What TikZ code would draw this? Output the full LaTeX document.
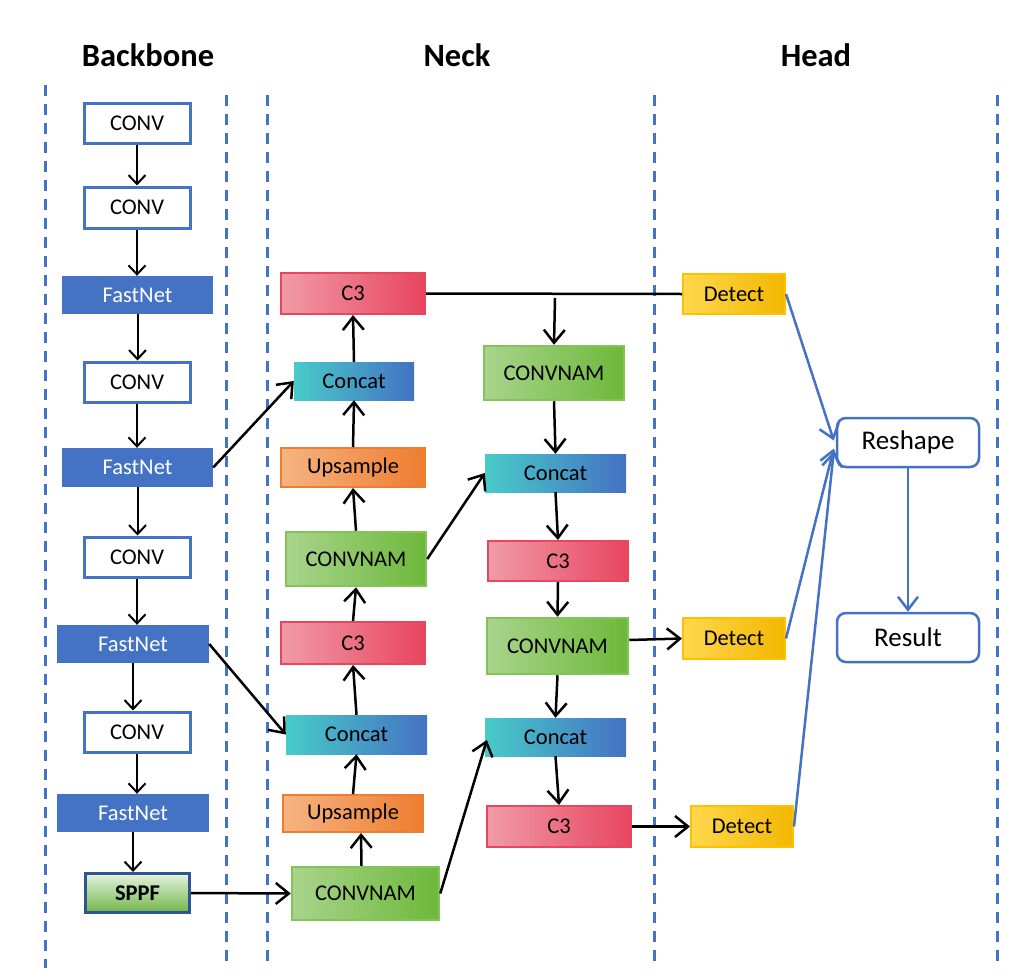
\documentclass[tikz,border=0pt]{standalone}
\usepackage{fontspec}
\setmainfont{Carlito}
\usetikzlibrary{arrows.meta,calc}
\definecolor{mblue}{HTML}{4472C4}
\definecolor{dblue}{HTML}{2F5597}
\definecolor{pinkL}{HTML}{F19BA6}
\definecolor{pinkR}{HTML}{E84560}
\definecolor{tealL}{HTML}{48CBC8}
\definecolor{tealR}{HTML}{4472C4}
\definecolor{orL}{HTML}{F5B482}
\definecolor{orR}{HTML}{EE7D30}
\definecolor{grL}{HTML}{A9D48C}
\definecolor{grR}{HTML}{6DB83A}
\definecolor{yeL}{HTML}{FFD84F}
\definecolor{yeR}{HTML}{F2B700}
\definecolor{yeB}{HTML}{FFC000}
\definecolor{spT}{HTML}{E4F3DD}
\definecolor{spB}{HTML}{72B54B}
\tikzset{
  box/.style={inner sep=0pt, font=\fontsize{22.5}{24}\selectfont},
  convbox/.style={box, draw=mblue, line width=3pt, fill=white},
  fastbox/.style={box, fill=mblue, text=white},
  c3box/.style={box, draw=pinkR, line width=2pt, left color=pinkL, right color=pinkR},
  catbox/.style={box, left color=tealL, right color=tealR},
  upbox/.style={box, draw=orR, line width=2pt, left color=orL, right color=orR},
  cnbox/.style={box, draw=grR!85!white, line width=2.5pt, left color=grL, right color=grR},
  detbox/.style={box, draw=yeB, line width=2pt, left color=yeL, right color=yeR},
  sppfbox/.style={box, draw=dblue, line width=3pt, top color=spT, bottom color=spB, font=\fontsize{22.5}{24}\selectfont\bfseries},
  roundbox/.style={inner sep=0pt, draw=mblue, line width=2.5pt, rounded corners=9pt, fill=white, font=\fontsize{27}{29}\selectfont},
  title/.style={font=\fontsize{32.5}{34}\selectfont\bfseries},
  bbarr/.style={line width=2pt, -{Straight Barb[length=9pt,width=17pt]}},
  nkarr/.style={line width=2.5pt, -{Straight Barb[length=13pt,width=21pt]}},
  nkline/.style={line width=2.5pt},
  bluearr/.style={draw=mblue, line width=2.5pt, -{Straight Barb[length=13pt,width=20pt]}},
  sep/.style={draw=mblue, line width=3pt, dash pattern=on 11pt off 8pt},
}
\begin{document}
\begin{tikzpicture}[x=1pt,y=-1pt]
\useasboundingbox (0,0) rectangle (1011,974);
% separators
\coordinate (s1a) at (45,85);  \coordinate (s1b) at (45,968);
\coordinate (s2a) at (226,95); \coordinate (s2b) at (226,968);
\coordinate (s3a) at (267,95); \coordinate (s3b) at (267,968);
\coordinate (s4a) at (654,95); \coordinate (s4b) at (654,968);
\coordinate (s5a) at (997,95); \coordinate (s5b) at (997,968);
\draw[sep] (s1a) -- (s1b);
\draw[sep] (s2a) -- (s2b);
\draw[sep] (s3a) -- (s3b);
\draw[sep] (s4a) -- (s4b);
\draw[sep] (s5a) -- (s5b);
% titles
\node[title] (tb) at (148,55) {Backbone};
\node[title] (tn) at (457,55) {Neck};
\node[title] (th) at (816,55) {Head};
% backbone
\node[convbox, minimum width=106pt, minimum height=40pt] (c1) at (137,123) {CONV};
\node[convbox, minimum width=106pt, minimum height=41pt] (c2) at (137,207.5) {CONV};
\node[fastbox, minimum width=151pt, minimum height=38pt] (f1) at (137.5,295) {FastNet};
\node[convbox, minimum width=106pt, minimum height=40pt] (c3) at (137,382) {CONV};
\node[fastbox, minimum width=151pt, minimum height=39pt] (f2) at (137.5,467.5) {FastNet};
\node[convbox, minimum width=106pt, minimum height=40pt] (c4) at (137,557) {CONV};
\node[fastbox, minimum width=152pt, minimum height=38pt] (f3) at (133,644) {FastNet};
\node[convbox, minimum width=106pt, minimum height=40pt] (c5) at (137,732) {CONV};
\node[fastbox, minimum width=152pt, minimum height=38pt] (f4) at (133,813) {FastNet};
\node[sppfbox, minimum width=104pt, minimum height=39pt] (sp) at (137.5,893) {SPPF};
% neck left
\node[c3box, minimum width=144pt, minimum height=41pt] (n1) at (353,293.5) {C3};
\node[catbox, minimum width=120pt, minimum height=38pt] (n2) at (354,381) {Concat};
\node[upbox, minimum width=144pt, minimum height=39pt] (n3) at (353,467.5) {Upsample};
\node[cnbox, minimum width=140pt, minimum height=54pt] (n4) at (356,559) {CONVNAM};
\node[c3box, minimum width=144pt, minimum height=42pt] (n5) at (353,643) {C3};
\node[catbox, minimum width=141pt, minimum height=39pt] (n6) at (356.5,734.5) {Concat};
\node[upbox, minimum width=140pt, minimum height=37pt] (n7) at (353,813.5) {Upsample};
\node[cnbox, minimum width=147pt, minimum height=53pt] (n8) at (365.5,893.5) {CONVNAM};
% neck right
\node[cnbox, minimum width=140pt, minimum height=54pt] (m1) at (554,373) {CONVNAM};
\node[catbox, minimum width=141pt, minimum height=38pt] (m2) at (555.5,473) {Concat};
\node[c3box, minimum width=140pt, minimum height=40pt] (m3) at (558,561) {C3};
\node[cnbox, minimum width=141pt, minimum height=56pt] (m4) at (557.5,646) {CONVNAM};
\node[catbox, minimum width=141pt, minimum height=38pt] (m5) at (555.5,737) {Concat};
\node[c3box, minimum width=144pt, minimum height=41pt] (m6) at (559,826.5) {C3};
% head
\node[detbox, minimum width=102pt, minimum height=40pt] (d1) at (734,294) {Detect};
\node[detbox, minimum width=102pt, minimum height=41pt] (d2) at (734,638.5) {Detect};
\node[detbox, minimum width=102pt, minimum height=41pt] (d3) at (742,826.5) {Detect};
\node[roundbox, minimum width=142pt, minimum height=49pt] (rs) at (908,442.5) {Reshape};
\node[roundbox, minimum width=142pt, minimum height=49pt] (re) at (908,637.5) {Result};
% backbone arrows (vertical, at the x of the source box)
\draw[bbarr] (c1.south) -- (c1.south |- c2.north);
\draw[bbarr] (c2.south) -- (c2.south |- f1.north);
\draw[bbarr] (f1.south) -- (f1.south |- c3.north);
\draw[bbarr] (c3.south) -- (c3.south |- f2.north);
\draw[bbarr] (f2.south) -- (f2.south |- c4.north);
\draw[bbarr] (c4.south) -- (c4.south |- f3.north);
\draw[bbarr] (f3.south) -- (f3.south |- c5.north);
\draw[bbarr] (c5.south) -- (c5.south |- f4.north);
\draw[bbarr] (f4.south) -- (f4.south |- sp.north);
% neck left up arrows
\draw[nkarr] ($(n8.north)+(-4,0)$) -- ($(n7.south)+(8,0)$);
\draw[nkarr] (n7.north) -- (n6.south);
\draw[nkarr] (n6.north) -- (n5.south);
\draw[nkarr] (n5.north) -- (n4.south);
\draw[nkarr] (n4.north) -- (n3.south);
\draw[nkarr] (n3.north) -- (n2.south);
\draw[nkarr] (n2.north) -- (n1.south);
% cross arrows
\draw[nkarr] (f2.east) -- (n2.west);
\draw[nkarr] (f3.east) -- (n6.west);
\draw[nkarr] (sp.east) -- (n8.west);
\draw[nkarr] (n4.east) -- (m2.west);
\draw[nkarr] (n8.east) -- ($(m5.west)+(2,3)$);
% top line and branch
\coordinate (brs) at (555,298);
\draw[nkline] (n1.east) -- (d1.west);
\draw[nkarr] (brs) -- (m1.north);
% neck right down arrows
\draw[nkarr] (m1.south) -- (m2.north);
\draw[nkarr] (m2.south) -- (m3.north);
\draw[nkarr] (m3.south) -- (m4.north);
\draw[nkarr] (m4.south) -- (m5.north);
\draw[nkarr] (m5.south) -- (m6.north);
% to detect
\draw[nkarr] ($(m4.east)+(0,-6)$) -- (d2.west);
\draw[nkarr] (m6.east) -- (d3.west);
% head blue arrows
\draw[bluearr] (d1.east) -- ($(rs.west)+(-2,-2)$);
\draw[bluearr] (d2.east) -- ($(rs.west)+(-2,6)$);
\draw[bluearr] (d3.east) -- ($(rs.west)+(-2,9)$);
\draw[bluearr] (rs.south) -- (re.north);
\end{tikzpicture}
\end{document}
